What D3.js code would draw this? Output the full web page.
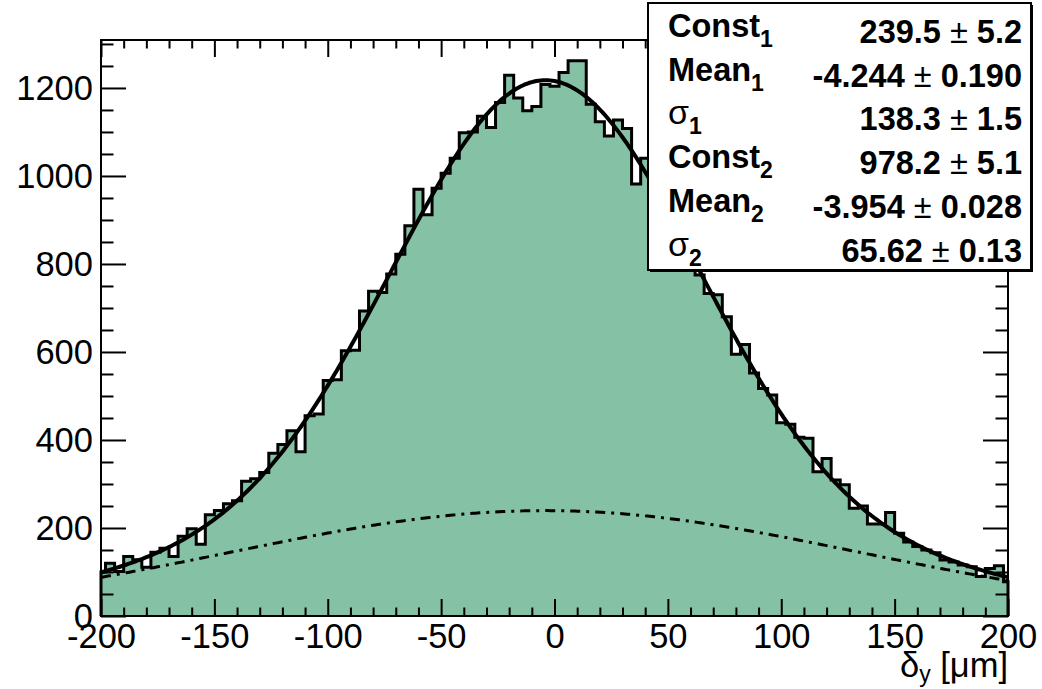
<!DOCTYPE html>
<html>
<head>
<meta charset="utf-8">
<script src="https://cdn.jsdelivr.net/npm/d3@7"></script>
<style>
  body { margin: 0; background: #fff; }
  svg { display: block; }
</style>
</head>
<body>
<svg id="chart" width="1042" height="689"></svg>
<script>
'use strict';

//bins are 4 um wide, centred on -200, -196 ... 200
var binWidth = 4;
var binCenters = d3.range(-200, 201, binWidth);
var binCounts = [
  100, 120, 101, 135, 128, 111, 145, 154, 135, 181,
  198, 163, 230, 240, 255, 262, 306, 312, 326, 370,
  390, 421, 373, 455, 459, 535, 537, 603, 604, 693,
  738, 735, 777, 822, 887, 970, 912, 972, 1006, 1040,
  1098, 1100, 1136, 1110, 1167, 1229, 1177, 1148, 1158, 1208,
  1204, 1235, 1262, 1262, 1163, 1123, 1091, 1127, 1108, 982,
  1040, 970, 935, 905, 860, 830, 775, 733, 730, 680,
  595, 617, 552, 517, 502, 439, 436, 406, 404, 328,
  358, 309, 298, 245, 250, 209, 209, 235, 188, 168,
  158, 150, 144, 127, 123, 116, 112, 90, 108, 114,
  78
];

var xTickValues = [-200, -150, -100, -50, 0, 50, 100, 150, 200];
var yTickValues = [0, 200, 400, 600, 800, 1000, 1200];

//fit results as printed in the stats box
var statNames = ['Const', 'Mean', '\u03c3', 'Const', 'Mean', '\u03c3'];
var statIndex = ['1', '1', '1', '2', '2', '2'];
var statValues = ['239.5', '-4.244', '138.3', '978.2', '-3.954', '65.62'];
var statErrors = ['5.2', '0.190', '1.5', '5.1', '0.028', '0.13'];

var font = '"Liberation Sans", Arial, Helvetica, sans-serif';
var frame = { left: 101, right: 1008, top: 40, bottom: 616 };

var svg = d3.select('#chart');

var x = d3.scaleLinear().domain([-200, 200]).range([frame.left, frame.right]);
var y = d3.scaleLinear().domain([0, 1309]).range([frame.bottom, frame.top]);

//fit = broad gaussian + narrow gaussian
var p = statValues.map(Number);
function gaus(v, c, m, s) {
  return c * Math.exp(-0.5 * Math.pow((v - m) / s, 2));
}
function broad(v) { return gaus(v, p[0], p[1], p[2]); }
function total(v) { return broad(v) + gaus(v, p[3], p[4], p[5]); }

//step outline of the histogram, clipped to the axis range
var stepPoints = [[-200, 0]];
binCenters.forEach(function (c, i) {
  var lo = Math.max(c - binWidth / 2, -200),
    hi = Math.min(c + binWidth / 2, 200);
  stepPoints.push([lo, binCounts[i]]);
  stepPoints.push([hi, binCounts[i]]);
});
stepPoints.push([200, 0]);

var line = d3.line()
  .x(function (d) { return x(d[0]); })
  .y(function (d) { return y(d[1]); });

svg.append('path')
  .attr('d', line(stepPoints) + 'Z')
  .attr('fill', '#85c1a5')
  .attr('stroke', 'none');

svg.append('path')
  .attr('d', line(stepPoints))
  .attr('fill', 'none')
  .attr('stroke', '#000')
  .attr('stroke-width', 3)
  .attr('stroke-linejoin', 'miter');

var fitX = d3.range(-200, 200.01, 1);

svg.append('path')
  .attr('d', line(fitX.map(function (v) { return [v, broad(v)]; })))
  .attr('fill', 'none')
  .attr('stroke', '#000')
  .attr('stroke-width', 3)
  .attr('stroke-dasharray', '10,6,3,6');

svg.append('path')
  .attr('d', line(fitX.map(function (v) { return [v, total(v)]; })))
  .attr('fill', 'none')
  .attr('stroke', '#000')
  .attr('stroke-width', 4);

//frame
svg.append('rect')
  .attr('x', frame.left)
  .attr('y', frame.top)
  .attr('width', frame.right - frame.left)
  .attr('height', frame.bottom - frame.top)
  .attr('fill', 'none')
  .attr('stroke', '#000')
  .attr('stroke-width', 2);

//axes: ticks point into the frame, mirrored on top and right
var axisHelpers = {
  style: function (g) {
    g.select('.domain').remove();
    g.selectAll('line').attr('stroke', '#000').attr('stroke-width', 2);
    g.attr('font-family', font).attr('font-size', 34.5);
    g.selectAll('text').attr('fill', '#000');
  },
  noLabel: function () { return ''; }
};

var xMinor = d3.range(-200, 201, 10).filter(function (v) { return v % 50 !== 0; });
var yMinor = d3.range(0, 1301, 50).filter(function (v) { return v % 200 !== 0; });

svg.append('g')
  .attr('transform', 'translate(0,' + frame.bottom + ')')
  .call(d3.axisBottom(x).tickValues(xTickValues).tickSize(-17).tickPadding(8)
    .tickFormat(function (d) { return String(d); }))
  .call(axisHelpers.style);
svg.append('g')
  .attr('transform', 'translate(0,' + frame.bottom + ')')
  .call(d3.axisBottom(x).tickValues(xMinor).tickSize(-8.5).tickFormat(axisHelpers.noLabel))
  .call(axisHelpers.style);
svg.append('g')
  .attr('transform', 'translate(0,' + frame.top + ')')
  .call(d3.axisTop(x).tickValues(xTickValues).tickSize(-17).tickFormat(axisHelpers.noLabel))
  .call(axisHelpers.style);
svg.append('g')
  .attr('transform', 'translate(0,' + frame.top + ')')
  .call(d3.axisTop(x).tickValues(xMinor).tickSize(-8.5).tickFormat(axisHelpers.noLabel))
  .call(axisHelpers.style);

svg.append('g')
  .attr('transform', 'translate(' + frame.left + ',0)')
  .call(d3.axisLeft(y).tickValues(yTickValues).tickSize(-25).tickPadding(8)
    .tickFormat(function (d) { return String(d); }))
  .call(axisHelpers.style);
svg.append('g')
  .attr('transform', 'translate(' + frame.left + ',0)')
  .call(d3.axisLeft(y).tickValues(yMinor).tickSize(-12.5).tickFormat(axisHelpers.noLabel))
  .call(axisHelpers.style);
svg.append('g')
  .attr('transform', 'translate(' + frame.right + ',0)')
  .call(d3.axisRight(y).tickValues(yTickValues).tickSize(-25).tickFormat(axisHelpers.noLabel))
  .call(axisHelpers.style);
svg.append('g')
  .attr('transform', 'translate(' + frame.right + ',0)')
  .call(d3.axisRight(y).tickValues(yMinor).tickSize(-12.5).tickFormat(axisHelpers.noLabel))
  .call(axisHelpers.style);

//axis title
var title = svg.append('text')
  .attr('x', frame.right)
  .attr('y', 677)
  .attr('text-anchor', 'end')
  .attr('font-family', font)
  .attr('font-size', 34.5);
title.append('tspan').text('\u03b4');
title.append('tspan').attr('font-size', 23).attr('dy', 5).text('y');
title.append('tspan').attr('dy', -5).text(' [\u03bcm]');

//stats box
var box = { x: 648, y: 3, w: 383, h: 267 };
svg.append('rect')
  .attr('x', box.x + 2).attr('y', box.y + 2)
  .attr('width', box.w).attr('height', box.h)
  .attr('fill', '#000');
svg.append('rect')
  .attr('x', box.x).attr('y', box.y)
  .attr('width', box.w).attr('height', box.h)
  .attr('fill', '#fff')
  .attr('stroke', '#000')
  .attr('stroke-width', 2);

var rowStep = 43.7;
statNames.forEach(function (name, i) {
  var label = svg.append('text')
    .attr('x', 668)
    .attr('y', 37 + i * rowStep)
    .attr('font-family', font)
    .attr('font-size', name === '\u03c3' ? 34 : 32.5)
    .attr('font-weight', name === '\u03c3' ? 'normal' : 'bold');
  label.append('tspan').text(name);
  label.append('tspan')
    .attr('font-size', 23)
    .attr('font-weight', 'bold')
    .attr('dy', 10)
    .text(statIndex[i]);

  var val = svg.append('text')
    .attr('x', 1022)
    .attr('y', 43 + i * rowStep)
    .attr('text-anchor', 'end')
    .attr('font-family', font)
    .attr('font-size', 32.5)
    .attr('font-weight', 'bold');
  val.append('tspan').text(statValues[i] + ' ');
  val.append('tspan').attr('font-weight', 'normal').text('\u00b1');
  val.append('tspan').text(' ' + statErrors[i]);
});
</script>
</body>
</html>
